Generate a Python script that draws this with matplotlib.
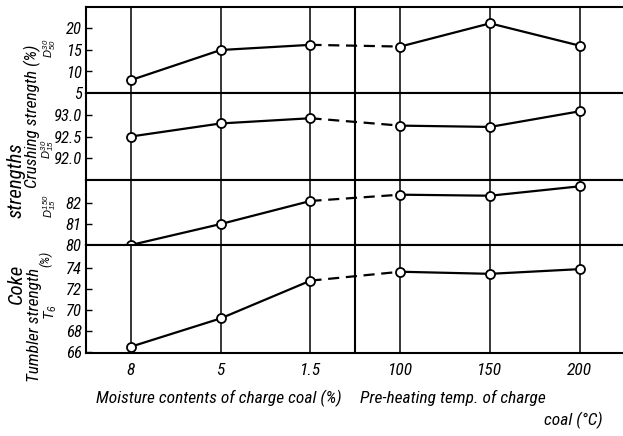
import matplotlib
matplotlib.use("Agg")
import matplotlib.pyplot as plt

FAM = ['Liberation Sans Narrow', 'DejaVu Sans Condensed', 'Roboto Condensed', 'DejaVu Sans']
plt.rcParams['font.family'] = FAM
plt.rcParams['font.style'] = 'italic'
plt.rcParams['mathtext.fontset'] = 'custom'
plt.rcParams['mathtext.it'] = 'Liberation Sans:italic'
plt.rcParams['mathtext.rm'] = 'Liberation Sans:italic'

categories = ["8", "5", "1.5", "100", "150", "200"]
drum_d30_50 = [8.0, 15.0, 16.2, 15.8, 21.2, 16.0]
drum_d30_15 = [92.5, 92.8, 92.92, 92.75, 92.72, 93.08]
drum_d150_15 = [80.0, 81.0, 82.1, 82.4, 82.35, 82.8]
tumbler_t6 = [66.5, 69.2, 72.8, 73.65, 73.45, 73.9]

series = [drum_d30_50, drum_d30_15, drum_d150_15, tumbler_t6]
ylims = [(5, 25), (91.5, 93.5), (80, 83.1), (65.9, 76.2)]
yticks = [[5, 10, 15, 20], [92.0, 92.5, 93.0], [80, 81, 82], [66, 68, 70, 72, 74]]
ytlabels = [["5", "10", "15", "20"], ["92.0", "92.5", "93.0"], ["80", "81", "82"],
            ["66", "68", "70", "72", "74"]]

W, H = 623, 436
fig = plt.figure(figsize=(W / 100, H / 100), dpi=100)

left_px, right_px = 86, 622
bounds_px = [(7, 93), (93, 180), (180, 245), (245, 353)]
x = list(range(len(categories)))

for i, (top, bot) in enumerate(bounds_px):
    ax = fig.add_axes([left_px / W, 1 - bot / H, (right_px - left_px) / W, (bot - top) / H])
    ax.set_xlim(-0.5, 5.47)
    ax.set_ylim(*ylims[i])
    for xi in x:
        ax.axvline(xi, color='black', lw=1.1, zorder=1)
    ax.axvline(2.5, color='black', lw=1.5, zorder=1)
    vals = series[i]
    ax.plot(x[:3], vals[:3], color='black', lw=1.6, zorder=2)
    ax.plot(x[2:4], vals[2:4], color='black', lw=1.6, ls=(0, (5, 3)), zorder=2)
    ax.plot(x[3:], vals[3:], color='black', lw=1.6, zorder=2)
    ax.plot(x, vals, ls='none', marker='o', ms=6.5, mfc='white', mec='black', mew=1.3, zorder=3)
    ax.set_yticks(yticks[i])
    ax.set_yticklabels(ytlabels[i], fontsize=12, style='italic')
    ax.tick_params(axis='y', direction='in', length=4, width=1, pad=3)
    for s in ax.spines.values():
        s.set_linewidth(1.5)
    ax.spines['right'].set_visible(False)
    if i < 3:
        ax.set_xticks([])
    else:
        ax.set_xticks(x)
        ax.set_xticklabels(categories, fontsize=12.5, style='italic')
        ax.tick_params(axis='x', length=0, pad=7)


def ftxt(px, py, s, **kw):
    fig.text(px / W, 1 - py / H, s, **kw)


# left labels
ftxt(16, 284, "Coke", rotation=90, ha='center', va='center', fontsize=15)
ftxt(16, 180, "strengths", rotation=90, ha='center', va='center', fontsize=15)
ftxt(32, 116, "Crushing strength (%)", rotation=90, ha='center', va='center', fontsize=12.5)
ftxt(34, 325, "Tumbler strength", rotation=90, ha='center', va='center', fontsize=12.5)
ftxt(46, 259, "(%)", rotation=90, ha='center', va='center', fontsize=9.5)
ftxt(50, 48, r"$D^{30}_{50}$", rotation=90, ha='center', va='center', fontsize=8)
ftxt(48, 149, r"$D^{30}_{15}$", rotation=90, ha='center', va='center', fontsize=8)
ftxt(50, 206, r"$D^{150}_{15}$", rotation=90, ha='center', va='center', fontsize=8)
ftxt(51, 312, r"$T_6$", rotation=90, ha='center', va='center', fontsize=10)

# x labels
ftxt(96, 398, "Moisture contents of charge coal (%)", ha='left', va='center', fontsize=12.5)
ftxt(360, 398, "Pre-heating temp. of charge", ha='left', va='center', fontsize=12.5)
ftxt(603, 420, "coal (°C)", ha='right', va='center', fontsize=12.5)

fig.savefig("out.png", dpi=100)
